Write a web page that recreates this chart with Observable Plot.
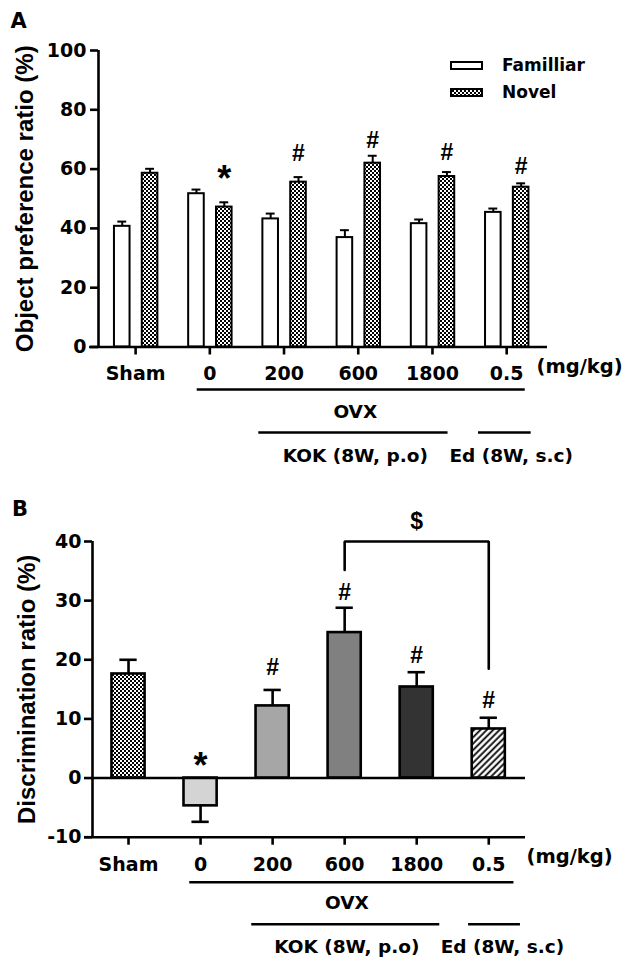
<!DOCTYPE html>
<html><head><meta charset="utf-8">
<script src="https://cdn.jsdelivr.net/npm/d3@7"></script>
<script src="https://cdn.jsdelivr.net/npm/@observablehq/plot@0.6"></script>
<style>
body{margin:0;background:#fff;font-family:"DejaVu Sans",sans-serif;}
#wrap{position:relative;width:643px;height:962px;overflow:hidden;}
#a,#b{display:block;}
.legrow{position:absolute;left:450px;height:20px;display:flex;align-items:center;font-family:"DejaVu Sans",sans-serif;font-weight:bold;font-size:17px;}
.legrow svg{margin-right:19px;}
</style></head><body>
<svg width="0" height="0" style="position:absolute">
<defs>
<pattern id="checker" width="4" height="4" patternUnits="userSpaceOnUse"><rect width="4" height="4" fill="#fff"/><rect width="2" height="2" fill="#000"/><rect x="2" y="2" width="2" height="2" fill="#000"/></pattern>
<pattern id="hatch" width="4.5" height="4.5" patternUnits="userSpaceOnUse" patternTransform="rotate(45)"><rect width="4.5" height="4.5" fill="#fff"/><line x1="1.5" y1="0" x2="1.5" y2="4.5" stroke="#000" stroke-width="1.8"/></pattern>
</defs></svg>
<div id="wrap"><div id="a"></div><div id="b"></div></div>
<script>
// ---------- data ----------
const groups = ["Sham", "0", "200", "600", "1800", "0.5"];
const unitLabel = "(mg/kg)";
const seriesA = ["Familliar", "Novel"];
const familiarMean  = [40.7, 51.7, 43.2, 36.9, 41.6, 45.4];
const familiarUpper = [42.3, 53.1, 45.0, 39.4, 43.0, 46.7];
const novelMean     = [58.6, 47.2, 55.6, 62.0, 57.5, 53.9];
const novelUpper    = [60.1, 48.8, 57.3, 64.5, 59.0, 55.2];
const yTicksA = [0, 20, 40, 60, 80, 100];
const titleA = "Object preference ratio (%)";
const annotA = [
  {group: "0", series: "Novel", label: "*", y: 59.5},
  {group: "200", series: "Novel", label: "#", y: 65.2},
  {group: "600", series: "Novel", label: "#", y: 69.6},
  {group: "1800", series: "Novel", label: "#", y: 65.6},
  {group: "0.5", series: "Novel", label: "#", y: 60.9}
];
const spansA = [
  {label: "OVX", from: 0.83, to: 5.25, at: 2.96, row: 1},
  {label: "KOK (8W, p.o)", from: 1.66, to: 4.21, at: 2.96, row: 2},
  {label: "Ed (8W, s.c)", from: 4.62, to: 5.33, at: 5.06, row: 2}
];

const discMean  = [17.6, -4.7, 12.2, 24.6, 15.4, 8.3];
const discError = [20.0, -7.4, 14.9, 28.8, 17.9, 10.2];
const yTicksB = [-10, 0, 10, 20, 30, 40];
const titleB = "Discrimination ratio (%)";
const annotB = [
  {group: "0", label: "*", y: 3.4},
  {group: "200", label: "#", y: 18.6},
  {group: "600", label: "#", y: 31.3},
  {group: "1800", label: "#", y: 20.7},
  {group: "0.5", label: "#", y: 13.1}
];
const bracketB = {from: "600", to: "0.5", yFrom: 35.2, yTop: 40, yTo: 18.5, label: "$", labelY: 43.4};
const spansB = [
  {label: "OVX", from: 0.85, to: 5.35, at: 3.03, row: 1},
  {label: "KOK (8W, p.o)", from: 1.71, to: 4.32, at: 3.03, row: 2},
  {label: "Ed (8W, s.c)", from: 4.72, to: 5.44, at: 5.19, row: 2}
];

// ---------- styles ----------
const TXT = "'DejaVu Sans', sans-serif";
const SYM = "'Liberation Sans', Arial, sans-serif";
const fillA = {Familliar: "#ffffff", Novel: "url(#checker)"};
const fillB = {"Sham": "url(#checker)", "0": "#d4d4d4", "200": "#a6a6a6", "600": "#808080", "1800": "#333333", "0.5": "url(#hatch)"};
const idx = g => groups.indexOf(g);
const svgStyle = {fontFamily: TXT, fontSize: "19px", fontWeight: "bold", color: "#000", background: "#fff", overflow: "visible"};

// ---------- panel A ----------
const offA = {Familliar: -0.18, Novel: 0.195};
const hwA = 0.105, capA = 0.06;
const rowsA = [];
groups.forEach((g, i) => {
  rowsA.push({g, i, series: "Familliar", mean: familiarMean[i], upper: familiarUpper[i]});
  rowsA.push({g, i, series: "Novel", mean: novelMean[i], upper: novelUpper[i]});
});
const cx = d => d.i + offA[d.series];
const rowDyA = {1: [42.5, 65.5], 2: [85.5, 109.5]};

const plotA = Plot.plot({
  width: 643, height: 470,
  marginTop: 50, marginBottom: 123.5, marginLeft: 98, marginRight: 96,
  x: {domain: [-0.5, 5.55]},
  y: {domain: [0, 100]},
  color: {type: "identity"},
  style: svgStyle,
  marks: [
    Plot.ruleX(rowsA, {x: cx, y1: "mean", y2: "upper", stroke: "#000", strokeWidth: 2}),
    Plot.ruleY(rowsA, {y: "upper", x1: d => cx(d) - capA, x2: d => cx(d) + capA, stroke: "#000", strokeWidth: 2}),
    Plot.rect(rowsA, {x1: d => cx(d) - hwA, x2: d => cx(d) + hwA, y1: 0, y2: "mean", fill: d => fillA[d.series], stroke: "#000", strokeWidth: 2}),
    Plot.ruleX([-0.5], {stroke: "#000", strokeWidth: 2.6}),
    Plot.ruleY([0], {x1: -0.62, x2: 5.55, stroke: "#000", strokeWidth: 2.6}),
    Plot.axisY({ticks: yTicksA, tickFormat: d => String(d), tickSize: 8, tickPadding: 4, strokeWidth: 2.6, label: null, fontSize: 19, fontWeight: "bold", fontFamily: TXT}),
    Plot.axisX({ticks: d3.range(groups.length), tickFormat: i => groups[i], tickSize: 8, tickPadding: 11, strokeWidth: 2.6, label: null, fontSize: 19, fontWeight: "bold", fontFamily: TXT}),
    Plot.text([unitLabel], {frameAnchor: "bottom-right", textAnchor: "start", dx: -11, dy: 25.5, fontSize: 19.5, fontWeight: "bold", fontFamily: TXT}),
    Plot.text(annotA.filter(d => d.label === "*"), {x: d => idx(d.group) + offA[d.series], y: "y", text: "label", fontSize: 36, fontWeight: "bold", fontFamily: SYM, dy: 9}),
    Plot.text(annotA.filter(d => d.label !== "*"), {x: d => idx(d.group) + offA[d.series], y: "y", text: "label", fontSize: 23, fontWeight: "bold", fontFamily: SYM}),
    ...[1, 2].map(r => Plot.ruleY(spansA.filter(s => s.row === r), {y: 0, x1: "from", x2: "to", dy: rowDyA[r][0], stroke: "#000", strokeWidth: 2.6})),
    ...[1, 2].map(r => Plot.text(spansA.filter(s => s.row === r), {x: "at", y: 0, text: "label", dy: rowDyA[r][1], fontSize: 18.5, fontWeight: "bold", fontFamily: TXT})),
    Plot.text([titleA], {frameAnchor: "left", textAnchor: "middle", dx: -73, rotate: -90, fontSize: 24, fontWeight: "bold", fontFamily: SYM}),
    Plot.text(["A"], {frameAnchor: "top-left", textAnchor: "start", dx: -88, dy: -37.5, fontSize: 21, fontWeight: "bold", fontFamily: TXT})
  ]
});
document.getElementById("a").appendChild(plotA);

// legend (HTML overlay)
const legTop = {Familliar: 55, Novel: 82};
seriesA.forEach(s => {
  const row = document.createElement("div");
  row.className = "legrow";
  row.style.top = legTop[s] + "px";
  row.innerHTML = `<svg width="33" height="9"><rect x="1" y="1" width="31" height="7" fill="${fillA[s]}" stroke="#000" stroke-width="2"/></svg><span>${s}</span>`;
  document.getElementById("wrap").appendChild(row);
});

// ---------- panel B ----------
const hwB = 0.23, capB = 0.12;
const rowsB = groups.map((g, i) => ({g, i, mean: discMean[i], err: discError[i]}));
const rowDyB = {1: [45, 66], 2: [87, 110]};
const bpts = [
  {x: idx(bracketB.from), y: bracketB.yFrom},
  {x: idx(bracketB.from), y: bracketB.yTop},
  {x: idx(bracketB.to), y: bracketB.yTop},
  {x: idx(bracketB.to), y: bracketB.yTo}
];

const plotB = Plot.plot({
  width: 643, height: 492,
  marginTop: 71, marginBottom: 125.3, marginLeft: 92, marginRight: 118,
  x: {domain: [-0.5, 5.51]},
  y: {domain: [-10, 40]},
  color: {type: "identity"},
  style: svgStyle,
  marks: [
    Plot.ruleX(rowsB, {x: "i", y1: "mean", y2: "err", stroke: "#000", strokeWidth: 2.6}),
    Plot.ruleY(rowsB, {y: "err", x1: d => d.i - capB, x2: d => d.i + capB, stroke: "#000", strokeWidth: 2.6}),
    Plot.rect(rowsB, {x1: d => d.i - hwB, x2: d => d.i + hwB, y1: 0, y2: "mean", fill: d => fillB[d.g], stroke: "#000", strokeWidth: 2.6}),
    Plot.ruleY([0], {x1: -0.5, x2: 5.51, stroke: "#000", strokeWidth: 2.6}),
    Plot.ruleX([-0.5], {stroke: "#000", strokeWidth: 2.6}),
    Plot.ruleY([-10], {x1: -0.61, x2: 5.51, stroke: "#000", strokeWidth: 2.6}),
    Plot.axisY({ticks: yTicksB, tickFormat: d => String(d), tickSize: 8, tickPadding: 3, strokeWidth: 2.6, label: null, fontSize: 19, fontWeight: "bold", fontFamily: TXT}),
    Plot.axisX({ticks: d3.range(groups.length), tickFormat: i => groups[i], tickSize: 8, tickPadding: 12.5, strokeWidth: 2.6, label: null, fontSize: 19, fontWeight: "bold", fontFamily: TXT}),
    Plot.text([unitLabel], {frameAnchor: "bottom-right", textAnchor: "start", dx: 1, dy: 26, fontSize: 19.5, fontWeight: "bold", fontFamily: TXT}),
    Plot.line(bpts, {x: "x", y: "y", stroke: "#000", strokeWidth: 2.6, strokeLinejoin: "miter"}),
    Plot.text([bracketB], {x: d => (idx(d.from) + idx(d.to)) / 2, y: "labelY", text: "label", fontSize: 23, fontWeight: "bold", fontFamily: SYM}),
    Plot.text(annotB.filter(d => d.label === "*"), {x: d => idx(d.group), y: "y", text: "label", fontSize: 36, fontWeight: "bold", fontFamily: SYM, dy: 9}),
    Plot.text(annotB.filter(d => d.label !== "*"), {x: d => idx(d.group), y: "y", text: "label", fontSize: 23, fontWeight: "bold", fontFamily: SYM}),
    ...[1, 2].map(r => Plot.ruleY(spansB.filter(s => s.row === r), {y: -10, x1: "from", x2: "to", dy: rowDyB[r][0], stroke: "#000", strokeWidth: 2.6})),
    ...[1, 2].map(r => Plot.text(spansB.filter(s => s.row === r), {x: "at", y: -10, text: "label", dy: rowDyB[r][1], fontSize: 18.5, fontWeight: "bold", fontFamily: TXT})),
    Plot.text([titleB], {frameAnchor: "left", textAnchor: "middle", dx: -65, rotate: -90, fontSize: 24, fontWeight: "bold", fontFamily: SYM}),
    Plot.text(["B"], {frameAnchor: "top-left", textAnchor: "start", dx: -80.5, dy: -40, fontSize: 21, fontWeight: "bold", fontFamily: TXT})
  ]
});
document.getElementById("b").appendChild(plotB);
</script>
</body></html>
